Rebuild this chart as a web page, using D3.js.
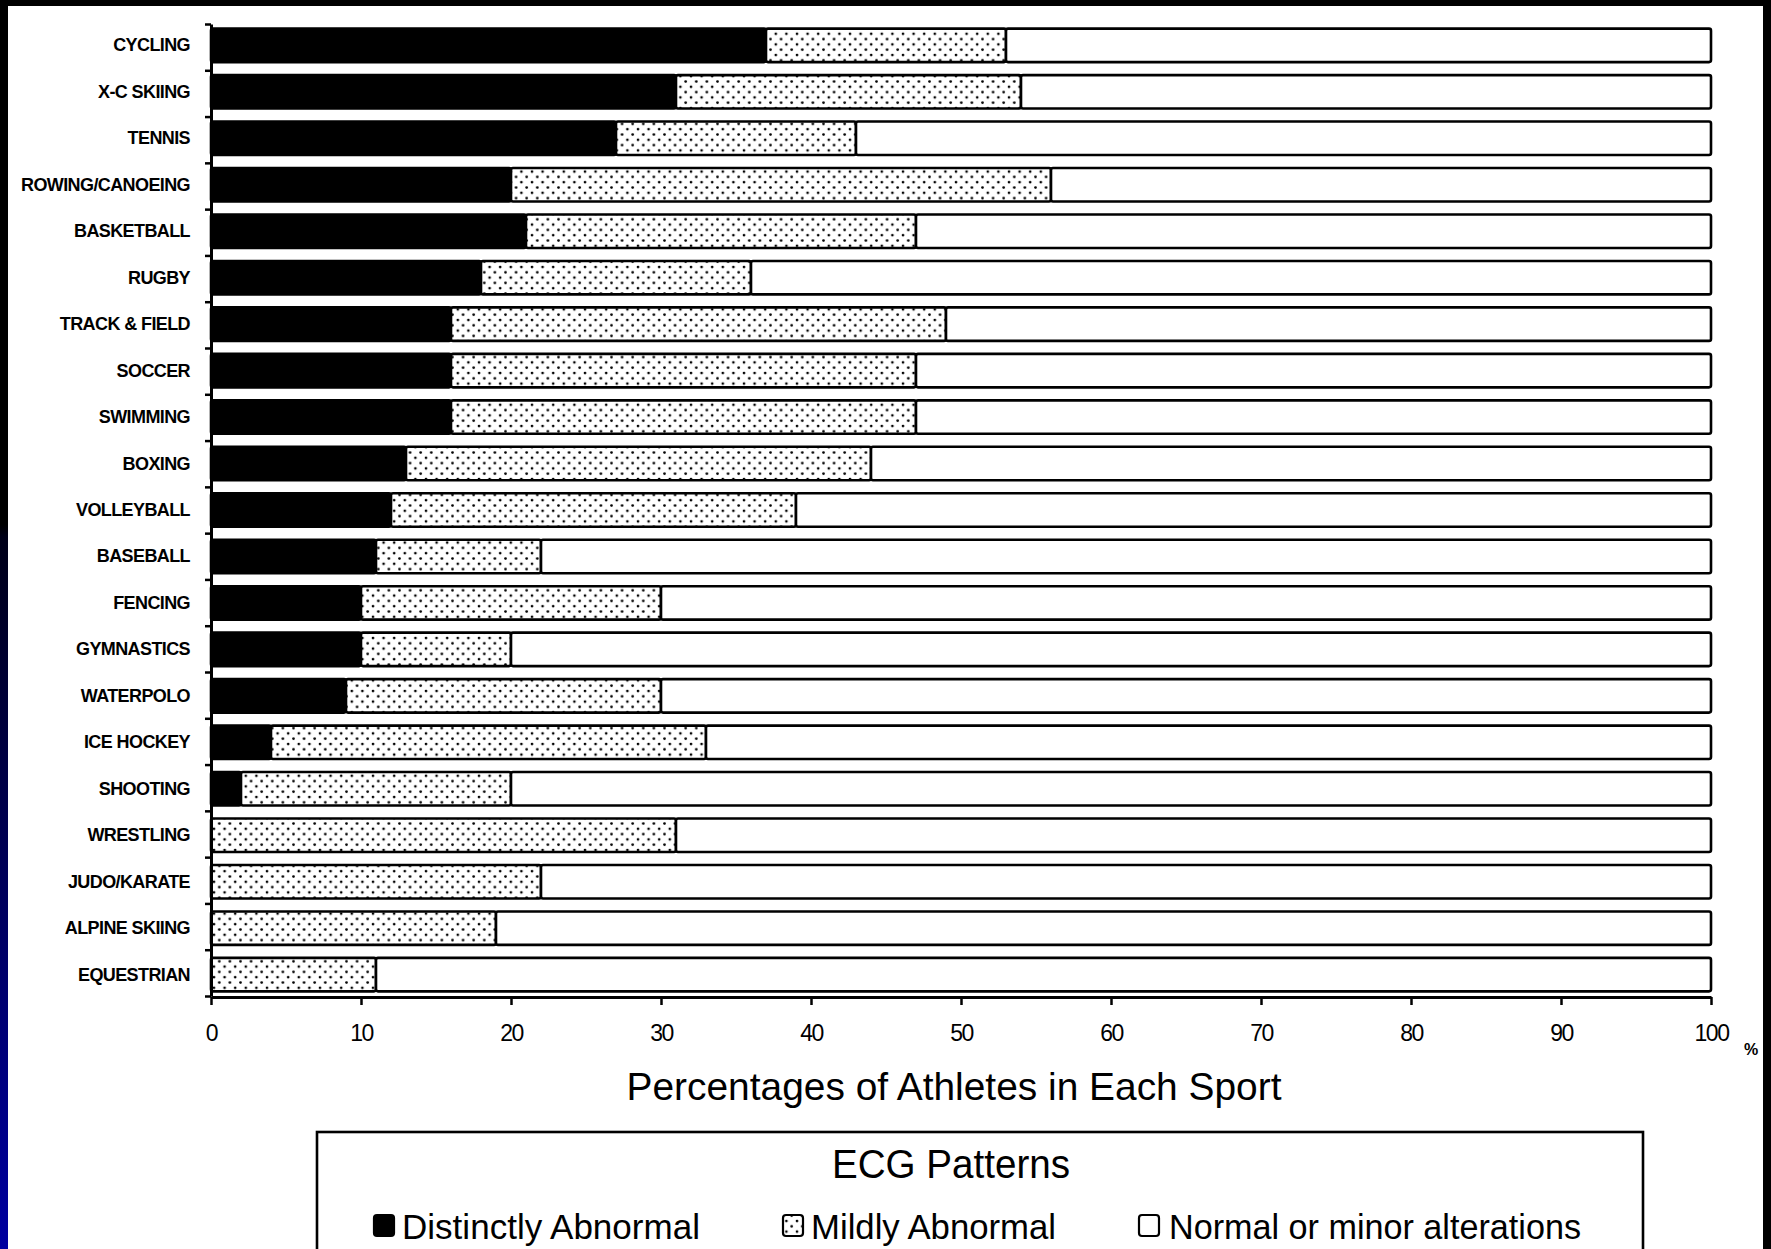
<!DOCTYPE html>
<html>
<head>
<meta charset="utf-8">
<script src="https://cdn.jsdelivr.net/npm/d3@7/dist/d3.min.js"></script>
<style>
html,body{margin:0;padding:0;background:#fff;overflow:hidden;}
svg{display:block;}
text{font-family:"Liberation Sans",Arial,sans-serif;fill:#000;}
</style>
</head>
<body>
<script>
const categories = ["CYCLING","X-C SKIING","TENNIS","ROWING/CANOEING","BASKETBALL","RUGBY","TRACK & FIELD","SOCCER","SWIMMING","BOXING","VOLLEYBALL","BASEBALL","FENCING","GYMNASTICS","WATERPOLO","ICE HOCKEY","SHOOTING","WRESTLING","JUDO/KARATE","ALPINE SKIING","EQUESTRIAN"];
const distinctlyAbnormal = [37,31,27,20,21,18,16,16,16,13,12,11,10,10,9,4,2,0,0,0,0];
const mildlyAbnormal     = [16,23,16,36,26,18,33,31,31,31,27,11,20,10,21,29,18,31,22,19,11];
const normalOrMinor      = categories.map((c,i)=>100-distinctlyAbnormal[i]-mildlyAbnormal[i]);
const seriesNames = ["Distinctly Abnormal","Mildly Abnormal","Normal or minor alterations"];
const xTicks = [0,10,20,30,40,50,60,70,80,90,100];
const xTitle = "Percentages of Athletes in Each Sport";
const legendTitle = "ECG Patterns";

const W = 1771, H = 1249;
const svg = d3.select("body").append("svg").attr("width",W).attr("height",H);
const defs = svg.append("defs");

// frame gradient
const lg = defs.append("linearGradient").attr("id","leftGrad").attr("x1",0).attr("y1",0).attr("x2",0).attr("y2",1);
lg.append("stop").attr("offset","0").attr("stop-color","#000");
lg.append("stop").attr("offset","0.42").attr("stop-color","#000");
lg.append("stop").attr("offset","0.43").attr("stop-color","#000018");
lg.append("stop").attr("offset","1").attr("stop-color","#0000a0");

// dot pattern
const pat = defs.append("pattern").attr("id","dots").attr("patternUnits","userSpaceOnUse")
  .attr("width",10.6).attr("height",10.6);
pat.append("rect").attr("width",10.6).attr("height",10.6).attr("fill","#fff");
pat.append("circle").attr("cx",2).attr("cy",2).attr("r",1.35).attr("fill","#000");
pat.append("circle").attr("cx",7.3).attr("cy",7.3).attr("r",1.35).attr("fill","#000");

svg.append("rect").attr("width",W).attr("height",H).attr("fill","#fff");
svg.append("rect").attr("x",0).attr("y",0).attr("width",W).attr("height",6).attr("fill","#000");
svg.append("rect").attr("x",1763).attr("y",0).attr("width",8).attr("height",H).attr("fill","#000");
svg.append("rect").attr("x",0).attr("y",0).attr("width",8).attr("height",H).attr("fill","url(#leftGrad)");

const x = d3.scaleLinear().domain([0,100]).range([211,1711]);
const yTop = 24, yBot = 996;
const y = d3.scaleBand().domain(categories).range([yTop,yBot]).paddingInner(0.28).paddingOuter(0.1);
const yIdx = d3.scaleLinear().domain([0,categories.length]).range([yTop,yBot]);

const fills = ["#000","url(#dots)","#fff"];
const data = categories.map((c,i)=>({cat:c, vals:[distinctlyAbnormal[i],mildlyAbnormal[i],normalOrMinor[i]]}));
const stack = d3.stack().keys([0,1,2]).value((d,k)=>d.vals[k]);
const stacked = stack(data);

const g = svg.append("g");
stacked.forEach((layer,k)=>{
  g.append("g").selectAll("rect").data(layer.filter(d=>d[1]-d[0]>0)).join("rect")
    .attr("x",d=>x(d[0]))
    .attr("y",d=>y(d.data.cat))
    .attr("width",d=>x(d[1])-x(d[0]))
    .attr("height",y.bandwidth())
    .attr("rx",2)
    .attr("fill",fills[k])
    .attr("stroke","#000")
    .attr("stroke-width",2.6);
});

// y axis: line with ticks at band boundaries
const yAxis = svg.append("g").attr("transform",`translate(${x(0)},0)`)
  .call(d3.axisLeft(yIdx).tickValues(d3.range(categories.length+1)).tickFormat("").tickSize(6).tickSizeOuter(0));
yAxis.select(".domain").attr("stroke-width",3);
yAxis.selectAll(".tick line").attr("stroke-width",2.5);

// category labels
svg.append("g").selectAll("text").data(categories).join("text")
  .attr("x",190).attr("y",d=>y(d)+y.bandwidth()/2)
  .attr("text-anchor","end").attr("dominant-baseline","central")
  .attr("font-size",18).attr("font-weight","bold").attr("letter-spacing",-0.6)
  .text(d=>d);

// x axis
const xAxis = svg.append("g").attr("transform",`translate(0,${yBot+1})`)
  .call(d3.axisBottom(x).tickValues(xTicks).tickSize(8).tickSizeOuter(0).tickPadding(20));
xAxis.select(".domain").attr("stroke-width",3);
xAxis.selectAll(".tick line").attr("stroke-width",2.5);
xAxis.selectAll(".tick text").attr("font-size",23).attr("font-family","Liberation Sans, Arial, sans-serif")
  .attr("letter-spacing",-1.5).attr("fill","#000");

svg.append("text").attr("x",1751).attr("y",1049).attr("text-anchor","middle")
  .attr("dominant-baseline","central").attr("font-size",16).attr("font-weight","bold").text("%");

svg.append("text").attr("x",954).attr("y",1086).attr("text-anchor","middle")
  .attr("dominant-baseline","central").attr("font-size",39)
  .attr("textLength",655).attr("lengthAdjust","spacingAndGlyphs").text(xTitle);

// legend
svg.append("rect").attr("x",317).attr("y",1132).attr("width",1326).attr("height",140)
  .attr("fill","#fff").attr("stroke","#000").attr("stroke-width",2.6);
svg.append("text").attr("x",951).attr("y",1164).attr("text-anchor","middle")
  .attr("dominant-baseline","central").attr("font-size",41)
  .attr("textLength",238).attr("lengthAdjust","spacingAndGlyphs").text(legendTitle);

const legendItems = [
  {sx:374, tx:402, tw:298},
  {sx:783, tx:811, tw:245},
  {sx:1139, tx:1169, tw:412}
];
const lgG = svg.append("g").selectAll("g").data(seriesNames).join("g");
lgG.append("rect").attr("x",(d,i)=>legendItems[i].sx).attr("y",1215).attr("width",20).attr("height",21)
  .attr("rx",3).attr("fill",(d,i)=>fills[i]).attr("stroke","#000").attr("stroke-width",2.2);
lgG.append("text").attr("x",(d,i)=>legendItems[i].tx).attr("y",1226)
  .attr("dominant-baseline","central").attr("font-size",35)
  .attr("textLength",(d,i)=>legendItems[i].tw).attr("lengthAdjust","spacingAndGlyphs")
  .text(d=>d);
</script>
</body>
</html>
